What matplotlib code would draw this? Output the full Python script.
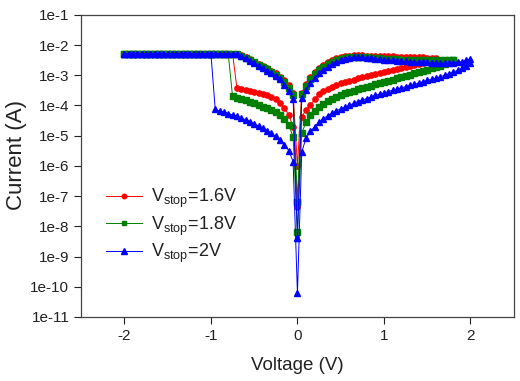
import matplotlib
matplotlib.use('Agg')
import matplotlib.pyplot as plt

plt.rcParams['font.family'] = ['Liberation Sans', 'DejaVu Sans']
plt.rcParams['mathtext.fontset'] = 'custom'
plt.rcParams['mathtext.rm'] = 'Liberation Sans'
plt.rcParams['mathtext.it'] = 'Liberation Sans'
plt.rcParams['axes.unicode_minus'] = False

# voltage grids (V)
v_pos = [0.05, 0.10, 0.15, 0.20, 0.25, 0.30, 0.35, 0.40, 0.45, 0.50,
         0.55, 0.60, 0.65, 0.70, 0.75, 0.80, 0.85, 0.90, 0.95, 1.00,
         1.05, 1.10, 1.15, 1.20, 1.25, 1.30, 1.35, 1.40, 1.45, 1.50,
         1.55, 1.60, 1.65, 1.70, 1.75, 1.80, 1.85, 1.90, 1.95, 2.00]
v_neg = [-0.05, -0.10, -0.15, -0.20, -0.25, -0.30, -0.35, -0.40, -0.45, -0.50,
         -0.55, -0.60, -0.65, -0.70, -0.75, -0.80, -0.85, -0.90, -0.95, -1.00,
         -1.05, -1.10, -1.15, -1.20, -1.25, -1.30, -1.35, -1.40, -1.45, -1.50,
         -1.55, -1.60, -1.65, -1.70, -1.75, -1.80, -1.85, -1.90, -1.95, -2.00]
i_cc = 5.2e-3  # compliance current (A)

# Vstop = 1.6 V
red_up = [2.6e-4, 5.0e-4, 8.5e-4, 1.3e-3, 1.7e-3, 2.2e-3, 2.7e-3, 3.2e-3, 3.6e-3, 4.0e-3,
          4.3e-3, 4.5e-3, 4.7e-3, 4.7e-3, 4.6e-3, 4.5e-3, 4.5e-3, 4.4e-3, 4.3e-3, 4.3e-3,
          4.2e-3, 4.2e-3, 4.1e-3, 4.1e-3, 4.0e-3, 4.0e-3, 3.9e-3, 3.9e-3, 3.9e-3, 3.8e-3,
          3.8e-3, 3.8e-3]
red_down = [4.3e-5, 7.1e-5, 1.07e-4, 1.6e-4, 2.4e-4, 3.0e-4, 3.6e-4, 4.2e-4, 4.8e-4, 5.4e-4,
            6.0e-4, 6.6e-4, 7.2e-4, 7.9e-4, 8.7e-4, 9.3e-4, 1.0e-3, 1.1e-3, 1.17e-3, 1.26e-3,
            1.35e-3, 1.45e-3, 1.58e-3, 1.7e-3, 1.86e-3, 2.0e-3, 2.2e-3, 2.4e-3, 2.6e-3, 2.9e-3,
            3.2e-3, 3.5e-3]
red_low = [2.0e-5, 4.8e-5, 8.5e-5, 1.2e-4, 1.6e-4, 1.9e-4, 2.2e-4, 2.4e-4, 2.6e-4, 2.75e-4,
           2.95e-4, 3.2e-4, 3.5e-4, 3.9e-4]
red_neg_up = [2.6e-4, 4.6e-4, 6.8e-4, 9.1e-4, 1.15e-3, 1.4e-3, 1.7e-3, 2.0e-3, 2.35e-3, 2.8e-3,
              3.4e-3, 4.0e-3, 4.6e-3, 5.0e-3]
red_zero = [1.0e-6, 4.5e-8]

# Vstop = 1.8 V
green_up = [2.4e-4, 4.4e-4, 7.6e-4, 1.12e-3, 1.5e-3, 1.9e-3, 2.35e-3, 2.75e-3, 3.1e-3, 3.45e-3,
            3.7e-3, 3.9e-3, 4.0e-3, 4.0e-3, 3.95e-3, 3.9e-3, 3.8e-3, 3.7e-3, 3.6e-3, 3.5e-3,
            3.45e-3, 3.4e-3, 3.35e-3, 3.3e-3, 3.3e-3, 3.25e-3, 3.2e-3, 3.2e-3, 3.2e-3, 3.2e-3,
            3.2e-3, 3.2e-3, 3.25e-3, 3.3e-3, 3.3e-3, 3.3e-3]
green_down = [1.26e-5, 2.8e-5, 4.7e-5, 6.8e-5, 9.1e-5, 1.15e-4, 1.4e-4, 1.6e-4, 1.9e-4, 2.2e-4,
              2.5e-4, 2.75e-4, 3.1e-4, 3.4e-4, 3.7e-4, 4.1e-4, 4.5e-4, 5.0e-4, 5.5e-4, 6.0e-4,
              6.6e-4, 7.2e-4, 7.9e-4, 8.7e-4, 9.5e-4, 1.05e-3, 1.15e-3, 1.26e-3, 1.38e-3, 1.5e-3,
              1.7e-3, 1.9e-3, 2.1e-3, 2.45e-3, 2.8e-3, 3.15e-3]
green_low = [9.3e-6, 2.2e-5, 3.5e-5, 4.9e-5, 6.2e-5, 7.2e-5, 8.1e-5, 9.1e-5, 1.02e-4, 1.17e-4,
             1.35e-4, 1.48e-4, 1.6e-4, 1.8e-4, 2.0e-4]
green_neg_up = [2.2e-4, 3.9e-4, 5.9e-4, 8.3e-4, 1.05e-3, 1.3e-3, 1.58e-3, 1.88e-3, 2.2e-3, 2.65e-3,
                3.2e-3, 3.85e-3, 4.5e-3, 5.0e-3]
green_zero = [6.5e-8, 6.3e-9]

# Vstop = 2 V
blue_up = [1.8e-4, 3.3e-4, 5.5e-4, 8.3e-4, 1.15e-3, 1.5e-3, 1.9e-3, 2.3e-3, 2.7e-3, 3.1e-3,
           3.45e-3, 3.75e-3, 3.95e-3, 4.0e-3, 3.95e-3, 3.85e-3, 3.7e-3, 3.55e-3, 3.4e-3, 3.3e-3,
           3.2e-3, 3.1e-3, 3.0e-3, 2.95e-3, 2.9e-3, 2.85e-3, 2.8e-3, 2.75e-3, 2.7e-3, 2.65e-3,
           2.6e-3, 2.55e-3, 2.5e-3, 2.5e-3, 2.5e-3, 2.55e-3, 2.65e-3, 2.85e-3, 3.1e-3, 3.5e-3]
blue_down = [2.95e-6, 8.3e-6, 1.4e-5, 2.0e-5, 2.8e-5, 3.7e-5, 4.6e-5, 5.5e-5, 6.6e-5, 7.8e-5,
             8.9e-5, 1.02e-4, 1.17e-4, 1.35e-4, 1.5e-4, 1.7e-4, 1.9e-4, 2.15e-4, 2.4e-4, 2.6e-4,
             2.9e-4, 3.2e-4, 3.5e-4, 3.8e-4, 4.2e-4, 4.6e-4, 5.0e-4, 5.5e-4, 6.2e-4, 6.8e-4,
             7.4e-4, 8.1e-4, 8.9e-4, 1.0e-3, 1.12e-3, 1.26e-3, 1.45e-3, 1.7e-3, 2.0e-3, 2.5e-3]
blue_low = [1.4e-6, 3.2e-6, 5.1e-6, 7.2e-6, 9.5e-6, 1.2e-5, 1.48e-5, 1.78e-5, 2.1e-5, 2.5e-5,
            2.95e-5, 3.4e-5, 3.8e-5, 4.4e-5, 4.9e-5, 5.4e-5, 5.9e-5, 6.6e-5, 7.4e-5]
blue_neg_up = [1.7e-4, 3.0e-4, 4.8e-4, 7.6e-4, 9.5e-4, 1.15e-3, 1.4e-3, 1.7e-3, 2.05e-3, 2.5e-3,
               3.0e-3, 3.6e-3, 4.3e-3, 5.0e-3]
blue_zero = [4.0e-9, 6.0e-11]

labels = [r'V$_{\rm stop}$=1.6V', r'V$_{\rm stop}$=1.8V', r'V$_{\rm stop}$=2V']
y_ticks = [1e-1, 1e-2, 1e-3, 1e-4, 1e-5, 1e-6, 1e-7, 1e-8, 1e-9, 1e-10, 1e-11]
y_labels = ['1e-1', '1e-2', '1e-3', '1e-4', '1e-5', '1e-6', '1e-7', '1e-8', '1e-9', '1e-10', '1e-11']
x_ticks = [-2, -1, 0, 1, 2]


def sweep(up, down, zero, low, neg_up):
    # 0 -> +Vstop -> 0 -> set at negative bias -> -2 V -> 0
    n = len(up)
    k = len(low)
    m = len(neg_up)
    v = ([0.0] + v_pos[:n] + v_pos[:n][::-1] + [0.0] + v_neg[:k] + v_neg[k:]
         + v_neg[m:][::-1] + v_neg[:m][::-1] + [0.0])
    i = ([zero[0]] + up + down[::-1] + [zero[1]] + low + [i_cc] * (len(v_neg) - k)
         + [i_cc] * (len(v_neg) - m) + neg_up[::-1] + [zero[0]])
    return v, i


fig = plt.figure(figsize=(5.2, 3.81), dpi=100)
ax = fig.add_axes([0.156, 0.168, 0.832, 0.793])

styles = [('#ff0000', 'o', 3.8), ('#008000', 's', 3.8), ('#0000ff', '^', 4.8)]
series = [(red_up, red_down, red_zero, red_low, red_neg_up),
          (green_up, green_down, green_zero, green_low, green_neg_up),
          (blue_up, blue_down, blue_zero, blue_low, blue_neg_up)]

for (col, mk, ms), s, lab in zip(styles, series, labels):
    v, i = sweep(*s)
    ax.plot(v, i, color=col, marker=mk, markersize=ms, linewidth=0.7,
            markeredgecolor=col, label=lab)

ax.set_yscale('log')
ax.set_xlim(-2.5, 2.5)
ax.set_ylim(1e-11, 1e-1)
ax.set_yticks(y_ticks)
ax.set_yticklabels(y_labels)
ax.yaxis.set_minor_locator(matplotlib.ticker.NullLocator())
ax.set_xticks(x_ticks)
ax.set_xticklabels([str(t) for t in x_ticks])
ax.tick_params(direction='out', length=5, width=0.8, labelsize=11, colors='#222222')

for sp in ax.spines.values():
    sp.set_color('#444444')
    sp.set_linewidth(0.9)

ax.set_xlabel('Voltage (V)', fontsize=13.5, color='#222222', labelpad=10)
ax.set_ylabel('Current (A)', fontsize=16, color='#222222')
ax.yaxis.set_label_coords(-0.125, 0.535)

leg = ax.legend(loc='upper left', bbox_to_anchor=(0.04, 0.455), frameon=False,
                fontsize=13, handlelength=2.0, handletextpad=0.5,
                labelspacing=0.25, borderaxespad=0.0, markerscale=0.85)
for t in leg.get_texts():
    t.set_color('#222222')

fig.savefig('out.png', dpi=100)
